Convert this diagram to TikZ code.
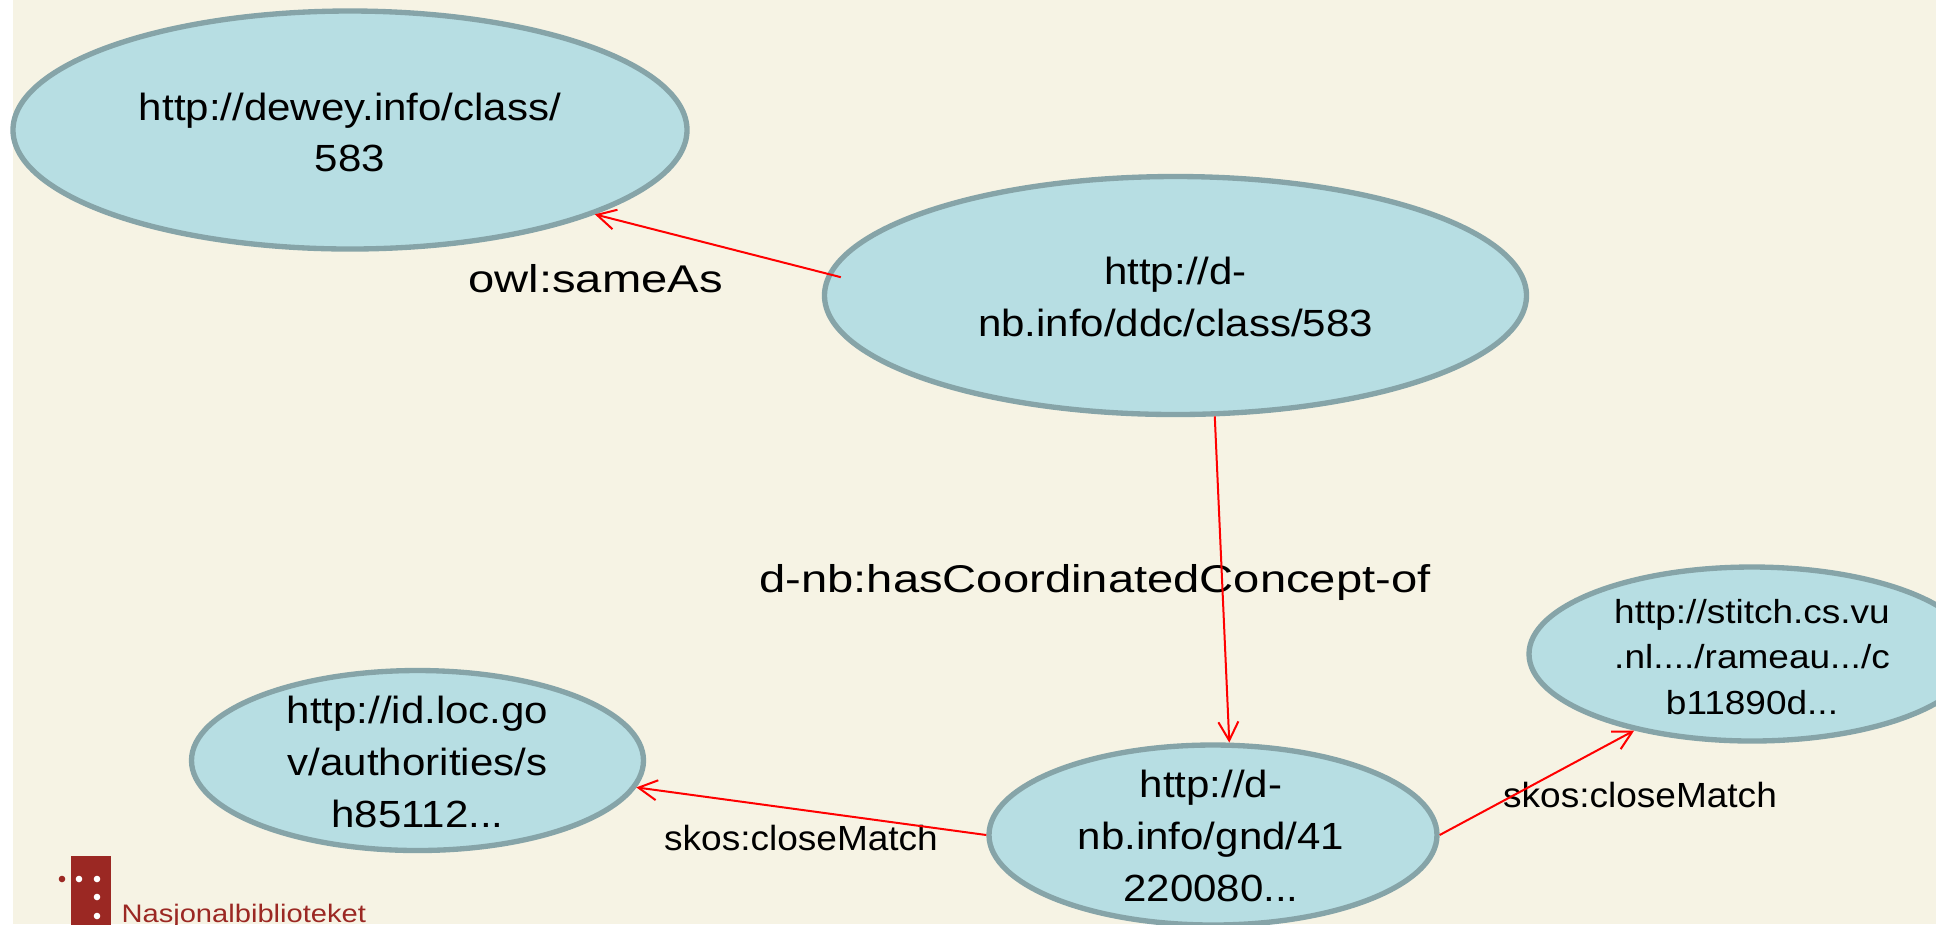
\documentclass[tikz,border=0pt]{standalone}
\usepackage{fontspec}
\setmainfont{Liberation Sans}
\newfontfamily\nodefont{Liberation Sans}[FakeStretch=1.11]
\newfontfamily\labfont{Liberation Sans}[FakeStretch=1.22]
\newfontfamily\skfont{Liberation Sans}[FakeStretch=1.06]
\newfontfamily\logofont{Liberation Sans}[FakeStretch=1.15]
\usetikzlibrary{shapes.geometric,arrows.meta}
\definecolor{bg}{HTML}{F6F3E4}
\definecolor{ellfill}{HTML}{B7DEE3}
\definecolor{ellborder}{HTML}{86A4A8}
\definecolor{logored}{HTML}{9B2823}
\begin{document}
\begin{tikzpicture}[x=0.375pt,y=-0.375pt,
  ell/.style={ellipse, draw=ellborder, line width=2pt, fill=ellfill, inner sep=0pt},
  txt/.style={align=center, inner sep=0pt, font=\nodefont\fontsize{14.2pt}{19.4pt}\selectfont},
  txtsmall/.style={align=center, inner sep=0pt, font=\nodefont\fontsize{12.5pt}{17.1pt}\selectfont},
  lab/.style={inner sep=0pt, font=\labfont\fontsize{14.5pt}{17pt}\selectfont},
  sk/.style={inner sep=0pt, font=\skfont\fontsize{13.1pt}{15pt}\selectfont},
  arr/.style={draw=red, line width=0.75pt, -{Straight Barb[length=7pt,width=7.5pt]}}]
\useasboundingbox (0,0) rectangle (1936,924);
\clip (0,0) rectangle (1936,924);
\fill[white] (0,0) rectangle (1936,924);
\fill[bg] (13,0) rectangle (1936,924);

% ellipses
\node[ell, minimum width=252.75pt, minimum height=89.25pt] (dewey) at (350,130) {};
\node[txt] (deweyt) at (350,132.5) {http://dewey.info/class/\\583};

\node[ell, minimum width=263.25pt, minimum height=89.25pt] (ddc) at (1175.5,295.5) {};
\node[txt] (ddct) at (1175.5,297) {http://d-\\nb.info/ddc/class/583};

\node[ell, minimum width=169.5pt, minimum height=67.5pt] (loc) at (417.5,760.5) {};
\node[txt] (loct) at (417.5,762) {http://id.loc.go\\v/authorities/s\\h85112...};

\node[ell, minimum width=168pt, minimum height=67.5pt] (gnd) at (1213,835) {};
\node[txt] (gndt) at (1211,836) {http://d-\\nb.info/gnd/41\\220080...};

\node[ell, minimum width=167.25pt, minimum height=65.25pt] (stitch) at (1752,654) {};
\node[txtsmall] (stitcht) at (1752,657) {http://stitch.cs.vu\\.nl..../rameau.../c\\b11890d...};

% labels
\node[lab, anchor=base] (sameas) at (595.5,292) {owl:sameAs};
\node[lab, anchor=base] (coord) at (1095,592) {d-nb:hasCoordinatedConcept-of};
\node[sk, anchor=base] (skosl) at (801,850) {skos:closeMatch};
\node[sk, anchor=base] (skosr) at (1640,807) {skos:closeMatch};

% connectors
\draw[arr] ([xshift=5.6pt]ddc.177.4) -- (dewey.-19.6);
\draw[arr] (ddc.-72.7) -- (gnd.80.7);
\draw[arr] (gnd.180) -- (loc.-7.6);
\draw[arr] (gnd.0) -- (stitch.-147);

% logo
\fill[logored] (71,856) rectangle (111,930);
\fill[white] (79,879) circle[radius=3.3];
\fill[white] (97,879) circle[radius=3.3];
\fill[white] (97,897) circle[radius=3.3];
\fill[white] (97,916) circle[radius=3.3];
\fill[logored] (62,879) circle[radius=3.3];
\node[anchor=base west, inner sep=0pt, text=logored, font=\logofont\fontsize{9.5pt}{11pt}\selectfont] (logo) at (121,922) {Nasjonalbiblioteket};
\end{tikzpicture}
\end{document}
